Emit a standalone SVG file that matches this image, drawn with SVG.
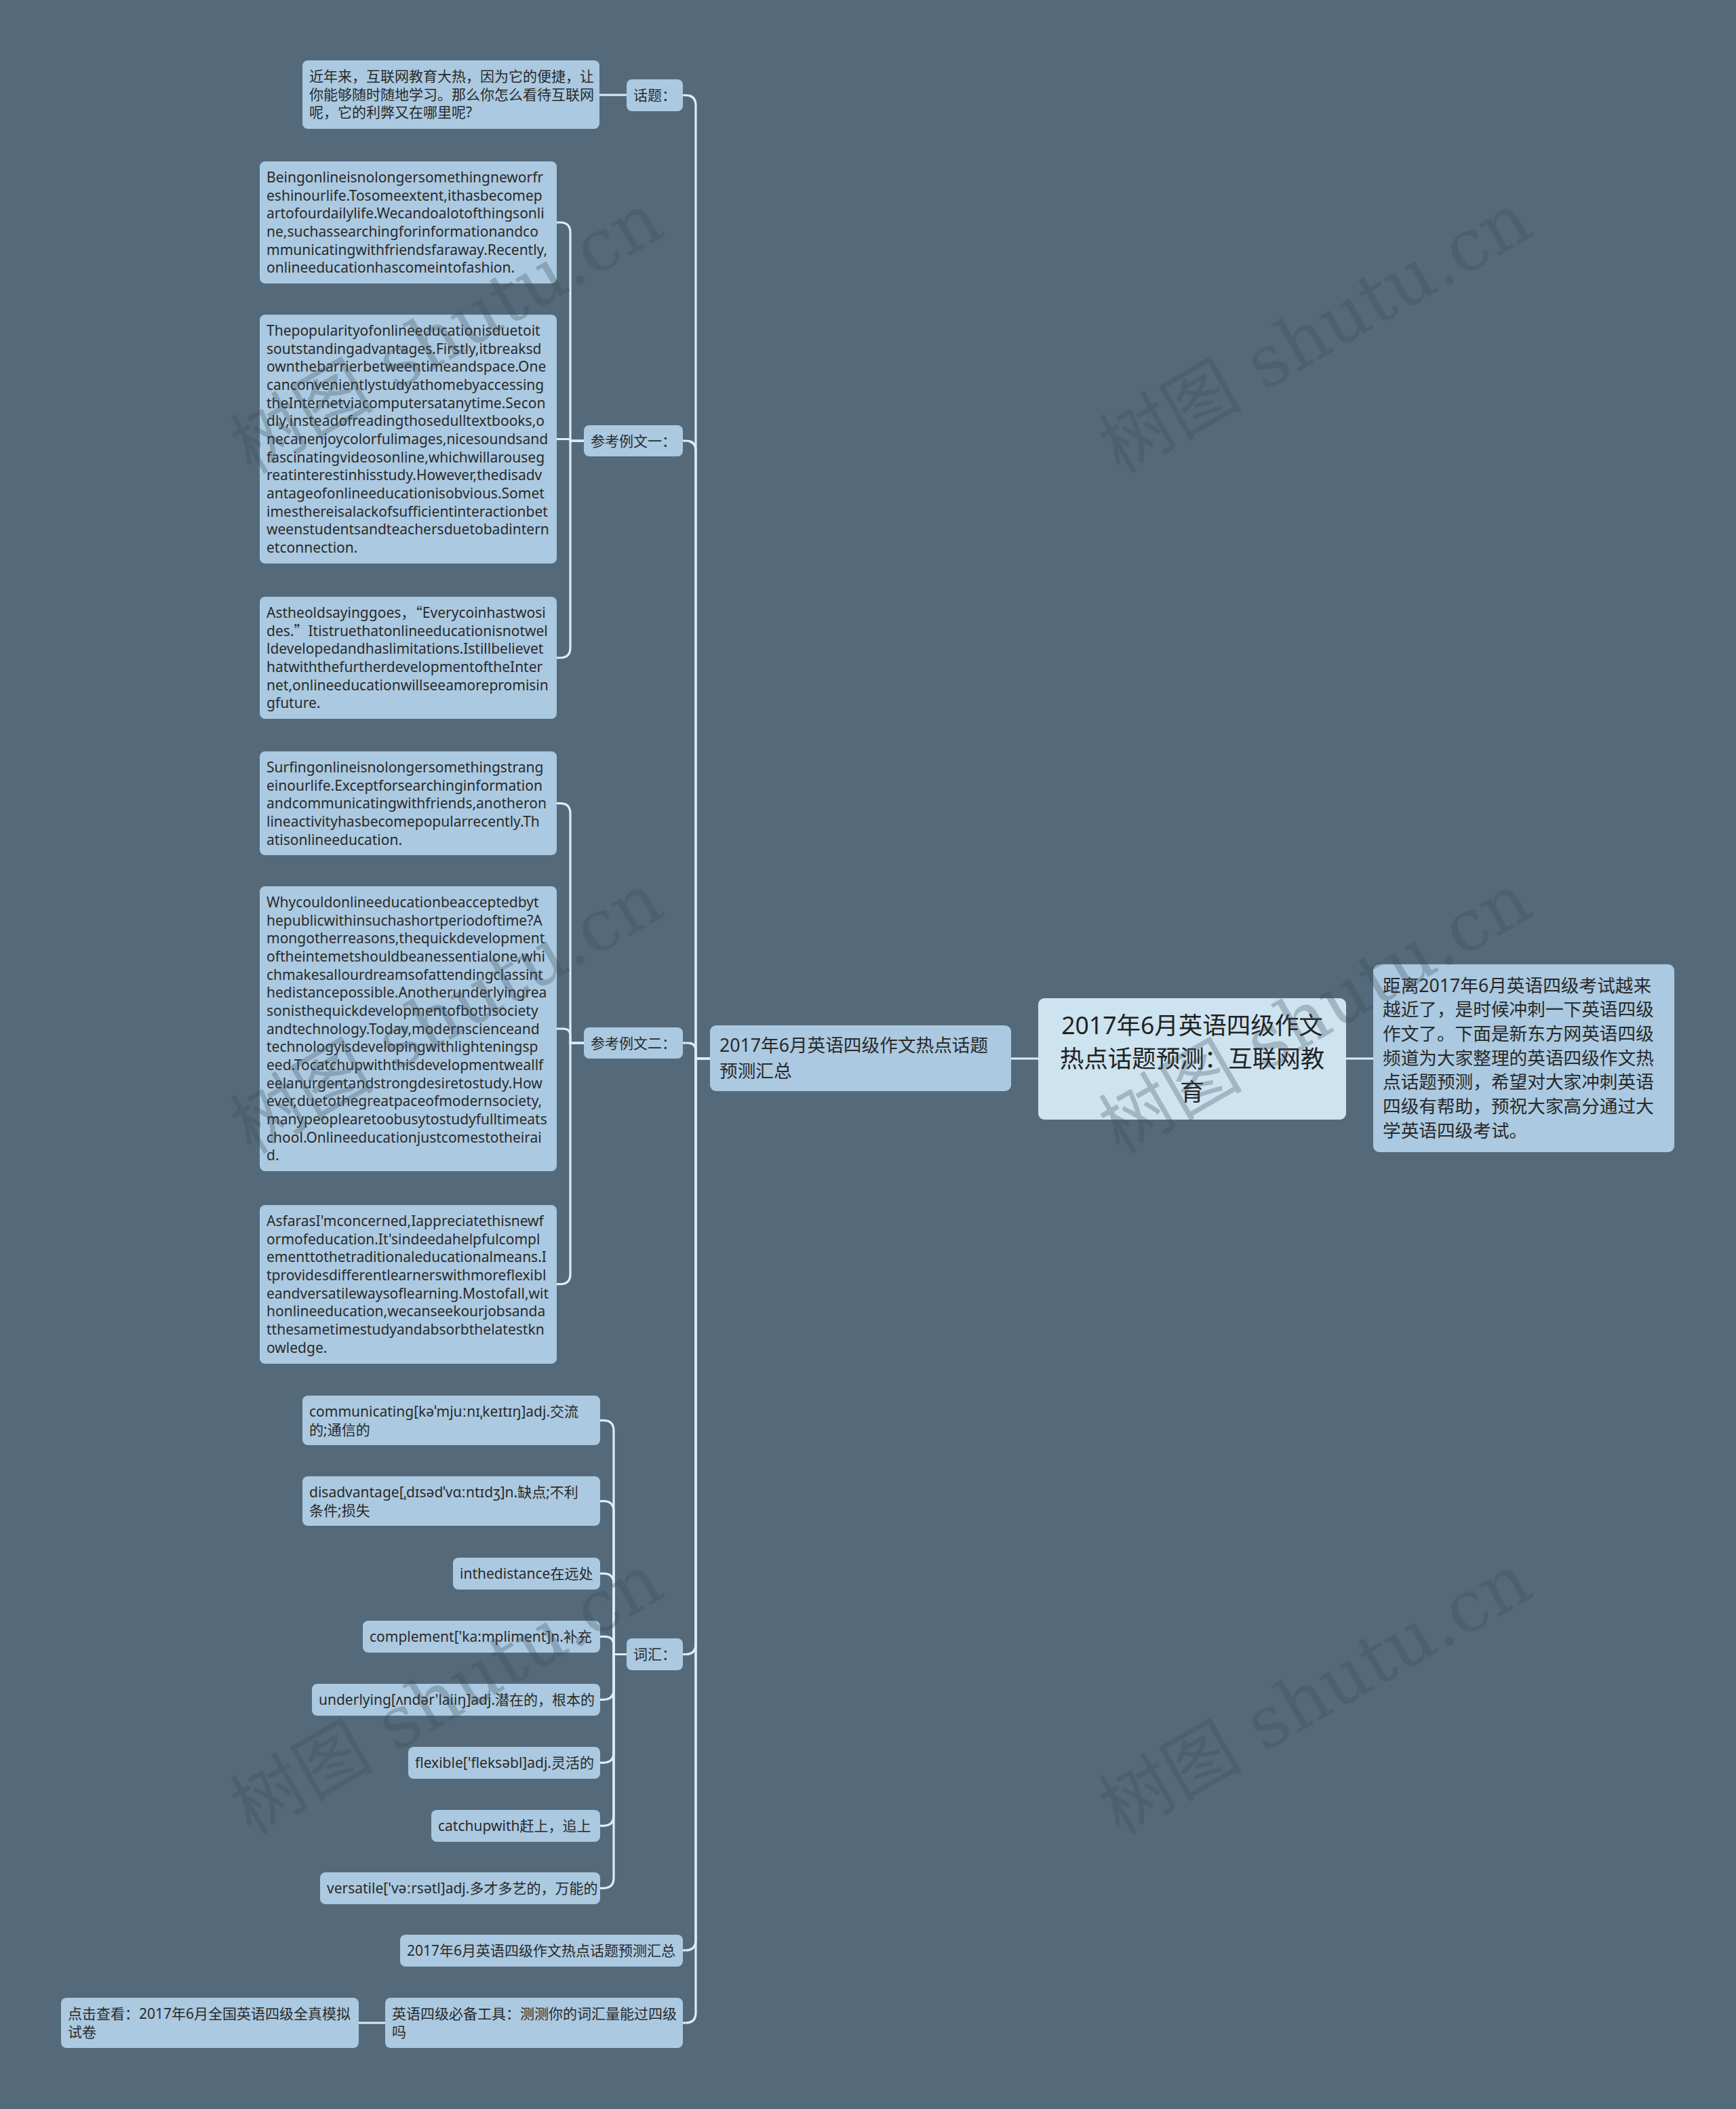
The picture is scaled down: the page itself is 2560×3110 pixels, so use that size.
<svg xmlns="http://www.w3.org/2000/svg" width="2560" height="3110" viewBox="0 0 2560 3110">
<defs>
<style>
.bg{fill:#546a7a}
.n{fill:#abc9e0}
.rt{fill:#cde3f0}
.c{fill:none;stroke:#dcedf8;stroke-width:3.2;stroke-linecap:round}
.s{font-family:"Noto Sans","Noto Sans CJK SC",sans-serif;font-size:21px;fill:#2a2a2a}
.m{font-family:"Noto Sans","Noto Sans CJK SC",sans-serif;font-size:26.67px;fill:#2a2a2a}
.r{font-family:"Noto Sans","Noto Sans CJK SC",sans-serif;font-size:35.5px;fill:#222}
.cj{font-family:"Noto Sans CJK SC",sans-serif}
.wm{font-family:"DejaVu Serif","Noto Sans CJK SC",serif;font-size:106px;fill:#3c4b5a;fill-opacity:0.3}
</style>
</defs>
<rect class="bg" x="0" y="0" width="2560" height="3110"/>

<g id="connectors">
<path class="c" d="M1531 1561 H1491"/>
<path class="c" d="M1985 1561 H2025"/>
<path class="c" d="M1047 1561 H1026 V155.5 Q1026 140.5 1011 140.5 H1007"/>
<path class="c" d="M1047 1561 H1026 V665 Q1026 650 1011 650 H1007"/>
<path class="c" d="M1047 1561 H1026 V1549.5 Q1026 1538 1014.5 1538 H1007"/>
<path class="c" d="M1047 1561 H1026 V2424.5 Q1026 2439.5 1011 2439.5 H1007"/>
<path class="c" d="M1047 1561 H1026 V2861 Q1026 2876 1011 2876 H1007"/>
<path class="c" d="M1047 1561 H1026 V2968 Q1026 2983 1011 2983 H1007"/>
<path class="c" d="M924 140 H884"/>
<path class="c" d="M861 650 H841 V343 Q841 328 826 328 H821"/>
<path class="c" d="M861 650 H841 V649 Q841 647.5 839.5 647.5 H821"/>
<path class="c" d="M861 650 H841 V955 Q841 970 826 970 H821"/>
<path class="c" d="M861 1538 H841 V1199.7 Q841 1184.7 826 1184.7 H821"/>
<path class="c" d="M861 1538 H841 V1527.5 Q841 1517 830.5 1517 H821"/>
<path class="c" d="M861 1538 H841 V1878.7 Q841 1893.7 826 1893.7 H821"/>
<path class="c" d="M924 2439.5 H905 V2109.7 Q905 2094.7 890 2094.7 H885"/>
<path class="c" d="M924 2439.5 H905 V2228.7 Q905 2213.7 890 2213.7 H885"/>
<path class="c" d="M924 2439.5 H905 V2335.3 Q905 2320.3 890 2320.3 H885"/>
<path class="c" d="M924 2439.5 H905 V2426.3 Q905 2413.3 892 2413.3 H885"/>
<path class="c" d="M924 2439.5 H905 V2491.3 Q905 2506.3 890 2506.3 H885"/>
<path class="c" d="M924 2439.5 H905 V2584.3 Q905 2599.3 890 2599.3 H885"/>
<path class="c" d="M924 2439.5 H905 V2677.3 Q905 2692.3 890 2692.3 H885"/>
<path class="c" d="M924 2439.5 H905 V2769.3 Q905 2784.3 890 2784.3 H885"/>
<path class="c" d="M568 2983 H529"/>
</g>

<g id="root">
<rect class="rt" x="1531" y="1472" width="454" height="179" rx="9"/>
<text class="r" text-anchor="middle"><tspan x="1758" y="1525">2017年6月英语四级作文</tspan><tspan x="1758" y="1574">热点话题预测：互联网教</tspan><tspan x="1758" y="1623">育</tspan></text>
</g>

<g id="desc">
<rect class="n" x="2025" y="1422" width="444" height="277" rx="9"/>
<text class="m"><tspan x="2039" y="1462.5">距离2017年6月英语四级考试越来</tspan><tspan x="2039" dy="35.7">越近了，是时候冲刺一下英语四级</tspan><tspan x="2039" dy="35.7">作文了。下面是新东方网英语四级</tspan><tspan x="2039" dy="35.7">频道为大家整理的英语四级作文热</tspan><tspan x="2039" dy="35.7">点话题预测，希望对大家冲刺英语</tspan><tspan x="2039" dy="35.7">四级有帮助，预祝大家高分通过大</tspan><tspan x="2039" dy="35.7">学英语四级考试。</tspan></text>
</g>

<g id="main">
<rect class="n" x="1047" y="1512" width="444" height="97" rx="9"/>
<text class="m"><tspan x="1061" y="1551">2017年6月英语四级作文热点话题</tspan><tspan x="1061" y="1589">预测汇总</tspan></text>
</g>

<g id="topic">
<rect class="n" x="924" y="117" width="83" height="47" rx="8"/>
<text class="s" x="934" y="148">话题：</text>
</g>
<g id="topic-text">
<rect class="n" x="446" y="89" width="438" height="101" rx="8"/>
<text class="s"><tspan x="456" y="120">近年来，互联网教育大热，因为它的便捷，让</tspan><tspan x="456" dy="26.67">你能够随时随地学习。那么你怎么看待互联网</tspan><tspan x="456" dy="26.67">呢，它的利弊又在哪里呢?</tspan></text>
</g>

<g id="essay1">
<rect class="n" x="861" y="627" width="146" height="46" rx="8"/>
<text class="s" x="871" y="658">参考例文一：</text>
</g>
<g id="e1p1">
<rect class="n" x="383" y="238" width="438" height="180" rx="8"/>
<text class="s"><tspan x="393" y="269">Beingonlineisnolongersomethingneworfr</tspan><tspan x="393" dy="26.67">eshinourlife.Tosomeextent,ithasbecomep</tspan><tspan x="393" dy="26.67">artofourdailylife.Wecandoalotofthingsonli</tspan><tspan x="393" dy="26.67">ne,suchassearchingforinformationandco</tspan><tspan x="393" dy="26.67">mmunicatingwithfriendsfaraway.Recently,</tspan><tspan x="393" dy="26.67">onlineeducationhascomeintofashion.</tspan></text>
</g>
<g id="e1p2">
<rect class="n" x="383" y="464" width="438" height="367" rx="8"/>
<text class="s"><tspan x="393" y="495">Thepopularityofonlineeducationisduetoit</tspan><tspan x="393" dy="26.67">soutstandingadvantages.Firstly,itbreaksd</tspan><tspan x="393" dy="26.67">ownthebarrierbetweentimeandspace.One</tspan><tspan x="393" dy="26.67">canconvenientlystudyathomebyaccessing</tspan><tspan x="393" dy="26.67">theInternetviacomputersatanytime.Secon</tspan><tspan x="393" dy="26.67">dly,insteadofreadingthosedulltextbooks,o</tspan><tspan x="393" dy="26.67">necanenjoycolorfulimages,nicesoundsand</tspan><tspan x="393" dy="26.67">fascinatingvideosonline,whichwillarouseg</tspan><tspan x="393" dy="26.67">reatinterestinhisstudy.However,thedisadv</tspan><tspan x="393" dy="26.67">antageofonlineeducationisobvious.Somet</tspan><tspan x="393" dy="26.67">imesthereisalackofsufficientinteractionbet</tspan><tspan x="393" dy="26.67">weenstudentsandteachersduetobadintern</tspan><tspan x="393" dy="26.67">etconnection.</tspan></text>
</g>
<g id="e1p3">
<rect class="n" x="383" y="880" width="438" height="180" rx="8"/>
<text class="s"><tspan x="393" y="911">Astheoldsayinggoes，<tspan class="cj">“</tspan>Everycoinhastwosi</tspan><tspan x="393" dy="26.67">des.<tspan class="cj">”</tspan>Itistruethatonlineeducationisnotwel</tspan><tspan x="393" dy="26.67">ldevelopedandhaslimitations.Istillbelievet</tspan><tspan x="393" dy="26.67">hatwiththefurtherdevelopmentoftheInter</tspan><tspan x="393" dy="26.67">net,onlineeducationwillseeamorepromisin</tspan><tspan x="393" dy="26.67">gfuture.</tspan></text>
</g>

<g id="essay2">
<rect class="n" x="861" y="1515" width="146" height="46" rx="8"/>
<text class="s" x="871" y="1546">参考例文二：</text>
</g>
<g id="e2p1">
<rect class="n" x="383" y="1108" width="438" height="153" rx="8"/>
<text class="s"><tspan x="393" y="1139">Surfingonlineisnolongersomethingstrang</tspan><tspan x="393" dy="26.67">einourlife.Exceptforsearchinginformation</tspan><tspan x="393" dy="26.67">andcommunicatingwithfriends,anotheron</tspan><tspan x="393" dy="26.67">lineactivityhasbecomepopularrecently.Th</tspan><tspan x="393" dy="26.67">atisonlineeducation.</tspan></text>
</g>
<g id="e2p2">
<rect class="n" x="383" y="1307" width="438" height="420" rx="8"/>
<text class="s"><tspan x="393" y="1338">Whycouldonlineeducationbeacceptedbyt</tspan><tspan x="393" dy="26.67">hepublicwithinsuchashortperiodoftime?A</tspan><tspan x="393" dy="26.67">mongotherreasons,thequickdevelopment</tspan><tspan x="393" dy="26.67">oftheintemetshouldbeanessentialone,whi</tspan><tspan x="393" dy="26.67">chmakesallourdreamsofattendingclassint</tspan><tspan x="393" dy="26.67">hedistancepossible.Anotherunderlyingrea</tspan><tspan x="393" dy="26.67">sonisthequickdevelopmentofbothsociety</tspan><tspan x="393" dy="26.67">andtechnology.Today,modernscienceand</tspan><tspan x="393" dy="26.67">technologyisdevelopingwithlighteningsp</tspan><tspan x="393" dy="26.67">eed.Tocatchupwiththisdevelopmentweallf</tspan><tspan x="393" dy="26.67">eelanurgentandstrongdesiretostudy.How</tspan><tspan x="393" dy="26.67">ever,duetothegreatpaceofmodernsociety,</tspan><tspan x="393" dy="26.67">manypeoplearetoobusytostudyfulltimeats</tspan><tspan x="393" dy="26.67">chool.Onlineeducationjustcomestotheirai</tspan><tspan x="393" dy="26.67">d.</tspan></text>
</g>
<g id="e2p3">
<rect class="n" x="383" y="1777" width="438" height="234" rx="8"/>
<text class="s"><tspan x="393" y="1808">AsfarasI'mconcerned,Iappreciatethisnewf</tspan><tspan x="393" dy="26.67">ormofeducation.It'sindeedahelpfulcompl</tspan><tspan x="393" dy="26.67">ementtothetraditionaleducationalmeans.I</tspan><tspan x="393" dy="26.67">tprovidesdifferentlearnerswithmoreflexibl</tspan><tspan x="393" dy="26.67">eandversatilewaysoflearning.Mostofall,wit</tspan><tspan x="393" dy="26.67">honlineeducation,wecanseekourjobsanda</tspan><tspan x="393" dy="26.67">tthesametimestudyandabsorbthelatestkn</tspan><tspan x="393" dy="26.67">owledge.</tspan></text>
</g>

<g id="vocab">
<rect class="n" x="924" y="2416" width="83" height="47" rx="8"/>
<text class="s" x="934" y="2447">词汇：</text>
</g>
<g id="v1">
<rect class="n" x="446" y="2058" width="439" height="73" rx="8"/>
<text class="s"><tspan x="456" y="2089">communicating[kəˈmjuːnɪˌkeɪtɪŋ]adj.交流</tspan><tspan x="456" dy="26.67">的;通信的</tspan></text>
</g>
<g id="v2">
<rect class="n" x="446" y="2177" width="439" height="73" rx="8"/>
<text class="s"><tspan x="456" y="2208">disadvantage[ˌdɪsədˈvɑːntɪdʒ]n.缺点;不利</tspan><tspan x="456" dy="26.67">条件;损失</tspan></text>
</g>
<g id="v3">
<rect class="n" x="668" y="2297" width="217" height="47" rx="8"/>
<text class="s" x="678" y="2328">inthedistance在远处</text>
</g>
<g id="v4">
<rect class="n" x="535" y="2390" width="350" height="47" rx="8"/>
<text class="s" x="545" y="2421">complement['ka:mpliment]n.补充</text>
</g>
<g id="v5">
<rect class="n" x="460" y="2483" width="425" height="47" rx="8"/>
<text class="s" x="470" y="2514">underlying[ʌndər'laiiŋ]adj.潜在的，根本的</text>
</g>
<g id="v6">
<rect class="n" x="602" y="2576" width="283" height="47" rx="8"/>
<text class="s" x="612" y="2607">flexible['fleksəbl]adj.灵活的</text>
</g>
<g id="v7">
<rect class="n" x="636" y="2669" width="249" height="47" rx="8"/>
<text class="s" x="646" y="2700">catchupwith赶上，追上</text>
</g>
<g id="v8">
<rect class="n" x="472" y="2761" width="413" height="47" rx="8"/>
<text class="s" x="482" y="2792">versatile['vəːrsətl]adj.多才多艺的，万能的</text>
</g>

<g id="summary">
<rect class="n" x="590" y="2853" width="417" height="47" rx="8"/>
<text class="s" x="600" y="2884">2017年6月英语四级作文热点话题预测汇总</text>
</g>
<g id="tool">
<rect class="n" x="568" y="2946" width="439" height="74" rx="8"/>
<text class="s"><tspan x="578" y="2977">英语四级必备工具：测测你的词汇量能过四级</tspan><tspan x="578" dy="26.67">吗</tspan></text>
</g>
<g id="mock">
<rect class="n" x="90" y="2946" width="439" height="74" rx="8"/>
<text class="s"><tspan x="100" y="2977">点击查看：2017年6月全国英语四级全真模拟</tspan><tspan x="100" dy="26.67">试卷</tspan></text>
</g>

<g id="watermarks">
<text class="wm" x="370" y="700" transform="rotate(-30 370 700)">树图 shutu.cn</text>
<text class="wm" x="1651" y="700" transform="rotate(-30 1651 700)">树图 shutu.cn</text>
<text class="wm" x="370" y="1703" transform="rotate(-30 370 1703)">树图 shutu.cn</text>
<text class="wm" x="1651" y="1703" transform="rotate(-30 1651 1703)">树图 shutu.cn</text>
<text class="wm" x="370" y="2707" transform="rotate(-30 370 2707)">树图 shutu.cn</text>
<text class="wm" x="1651" y="2707" transform="rotate(-30 1651 2707)">树图 shutu.cn</text>
</g>
</svg>
